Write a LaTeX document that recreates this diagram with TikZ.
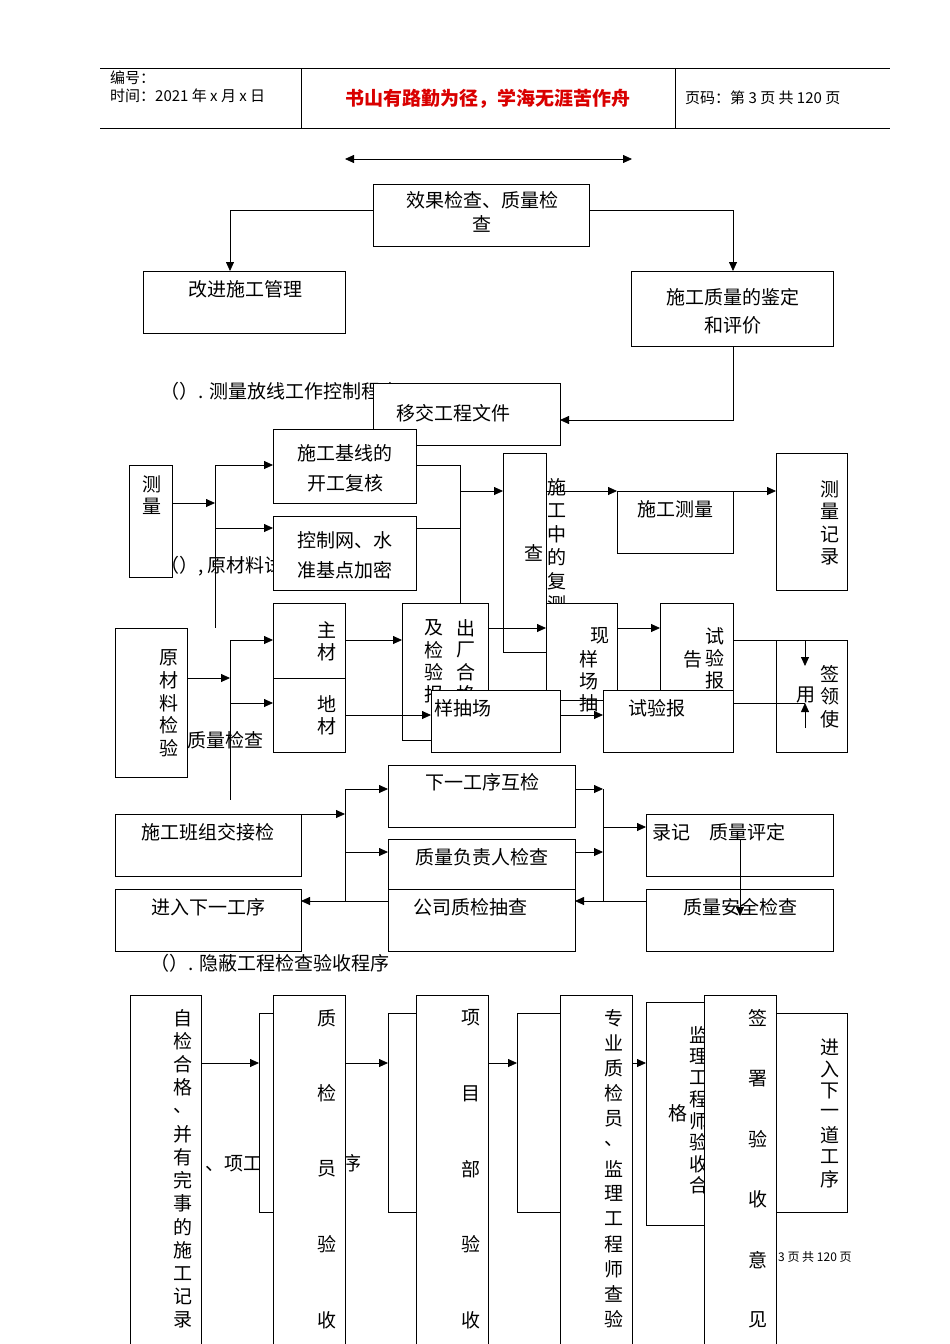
\documentclass[tikz,border=0pt]{standalone}
\usepackage{fontspec}
\newfontfamily\cjk{Noto Sans CJK SC}
\usetikzlibrary{arrows.meta}
\tikzset{x=1pt,y=-1pt,
 bx/.style={draw,fill=white,line width=0.8pt,anchor=north west,inner sep=0},
 t/.style={font=\cjk\fontsize{19}{24}\selectfont,inner sep=0},
 ts/.style={font=\cjk\fontsize{15}{18}\selectfont,inner sep=0,anchor=west},
 ln/.style={line width=0.8pt},
 ar/.style={line width=0.8pt,-{Triangle[length=9pt,width=8pt]}}}
\newcommand\B[5]{\node[bx,minimum width=#4pt-#2pt,minimum height=#5pt-#3pt] (#1) at (#2,#3) {};}
\newcommand\V[4]{\foreach \c [count=\i from 0] in {#4} \node[t] at (#1,#2+\i*#3) {\c};}
\begin{document}
\begin{tikzpicture}
\useasboundingbox (0,0) rectangle (950,1344);
% header
\draw[line width=0.6pt] (100,68) -- (890,68) (100,128) -- (890,128) (301,68) -- (301,128) (675,68) -- (675,128);
\node[ts] at (110,78) {编号：};
\node[ts] at (110,96) {时间：2021 年 x 月 x 日};
\node[font=\cjk\bfseries\fontsize{19}{22}\selectfont,text=red!85!black,inner sep=0] at (488,99) {书山有路勤为径，学海无涯苦作舟};
\node[ts] at (685,98) {页码：第 3 页 共 120 页};
\draw[line width=0.8pt,{Triangle[length=9pt,width=8pt]}-{Triangle[length=9pt,width=8pt]}] (345,159) -- (632,159);
% section 1
\B{xg}{373}{184}{589}{246}
\node[t,align=center] at (482,212) {效果检查、质量检\\查};
\B{gj}{143}{271}{345}{333}
\node[t] at (245,289) {改进施工管理};
\B{jd}{631}{271}{833}{346}
\node[t,align=center] at (733,311) {施工质量的鉴定\\[4pt]和评价};
\draw[ar] (373,210) -- (230,210) -- (230,271);
\draw[ar] (589,210) -- (733,210) -- (733,271);
\node[t,anchor=west] at (160,391) {（）. 测量放线工作控制程序};
\B{yj}{373}{383}{560}{445}
\node[t] at (453,413) {移交工程文件};
\draw[ar] (733,346) -- (733,420) -- (560,420);
% text behind
\node[t,anchor=west] at (160,566) {（）, 原材料试验程序};
\node[t,anchor=west] at (187,740) {质量检查};
% measurement
\B{cl}{129}{465}{172}{577}
\V{152}{484}{22}{测,量}
\draw[ar] (172,503) -- (215,503);
\draw[ln] (215,465) -- (215,628);
\draw[ar] (215,465) -- (273,465);
\draw[ar] (215,528) -- (273,528);
\B{jx}{273}{429}{416}{503}
\node[t,align=center] at (345,468) {施工基线的\\[6pt]开工复核};
\B{kz}{273}{516}{416}{590}
\node[t,align=center] at (345,555) {控制网、水\\[6pt]准基点加密};
\draw[ln] (416,465) -- (460,465) -- (460,605);
\draw[ln] (416,528) -- (460,528);
\draw[ar] (460,491) -- (503,491);
\B{fc}{503}{453}{546}{652}
\V{557}{487}{23.5}{施,工,中,的,复,测}
\node[t] at (534,553) {查};
\draw[ar] (546,491) -- (617,491);
\B{sc}{617}{491}{733}{553}
\node[t] at (675,509) {施工测量};
\draw[ar] (733,491) -- (776,491);
\B{jl}{776}{453}{847}{590}
\V{830}{489}{22.5}{测,量,记,录}
% materials
\B{yc}{115}{628}{187}{777}
\V{169}{658}{22.5}{原,材,料,检,验}
\draw[ar] (187,678) -- (230,678);
\draw[ln] (230,640) -- (230,800);
\draw[ar] (230,640) -- (273,640);
\draw[ar] (230,703) -- (273,703);
\B{zc}{273}{603}{345}{678}
\V{327}{630}{22}{主,材}
\B{dc}{273}{678}{345}{752}
\V{327}{704}{22}{地,材}
\draw[ar] (345,640) -- (402,640);
\B{cc}{402}{603}{488}{740}
\V{466}{628}{22}{出,厂,合,格}
\V{434}{628}{22}{及,检,验,报}
\draw[ln] (503,652) -- (546,652);
\B{xc}{546}{603}{617}{700}
\node[t] at (600,636) {现};
\V{589}{659}{22}{样,场,抽}
\draw[ar] (488,628) -- (546,628);
\B{sy}{660}{603}{733}{700}
\V{715}{636}{22}{试,验,报}
\node[t] at (693,659) {告};
\draw[ar] (617,628) -- (660,628);
\B{qy}{776}{640}{847}{752}
\V{830}{674}{22.5}{签,领,使}
\node[t] at (806,695) {用};
\draw[ln] (733,640) -- (805,640);
\draw[ar] (805,640) -- (805,666);
\draw[ln] (733,703) -- (805,703);
\draw[ar] (805,728) -- (805,703);
\B{cy}{431}{690}{560}{752}
\node[t] at (463,708) {样抽场};
\draw[ar] (345,715) -- (431,715);
\draw[ln] (402,740) -- (431,740);
\B{bg}{603}{690}{733}{752}
\node[t] at (657,708) {试验报};
\draw[ar] (560,715) -- (603,715);
\draw[ln] (733,703) -- (776,703);
% section 3
\B{hj}{388}{765}{575}{827}
\node[t] at (482,782) {下一工序互检};
\B{fz}{388}{839}{575}{889}
\node[t] at (482,857) {质量负责人检查};
\B{gs}{388}{889}{575}{951}
\node[t] at (470,907) {公司质检抽查};
\B{bz}{115}{814}{301}{876}
\node[t] at (208,832) {施工班组交接检};
\B{jr}{115}{889}{301}{951}
\node[t] at (208,907) {进入下一工序};
\draw[ar] (230,814) -- (345,814);
\draw[ln] (345,789) -- (345,901);
\draw[ar] (345,789) -- (388,789);
\draw[ar] (345,852) -- (388,852);
\draw[ar] (388,901) -- (301,901);
\draw[ar] (575,789) -- (603,789);
\draw[ar] (575,852) -- (603,852);
\draw[ln] (603,789) -- (603,901);
\draw[ar] (603,827) -- (646,827);
\B{pd}{646}{814}{833}{876}
\node[t,anchor=west] at (652,832) {录记\quad 质量评定};
\B{aq}{646}{889}{833}{951}
\node[t] at (740,907) {质量安全检查};
\draw[ar] (740,840) -- (740,916);
\draw[ar] (646,901) -- (575,901);
\node[t,anchor=west] at (150,963) {（）. 隐蔽工程检查验收程序};
% section 4
\node[t,anchor=west] at (205,1163) {、项工程};
\B{b1}{259}{1013}{273}{1212}
\B{zj}{130}{995}{201}{1350}
\V{183}{1018}{23.2}{自,检,合,格,、,并,有,完,事,的,施,工,记,录}
\draw[ar] (201,1063) -- (259,1063);
\node[t] at (352,1163) {序};
\B{zy}{273}{995}{345}{1350}
\V{327}{1018}{75.5}{质,检,员,验,收}
\B{b2}{388}{1013}{416}{1212}
\draw[ar] (345,1063) -- (388,1063);
\B{xm}{416}{995}{488}{1350}
\V{471}{1018}{75.5}{项,目,部,验,收}
\B{b3}{517}{1013}{560}{1212}
\draw[ar] (488,1063) -- (517,1063);
\B{zz}{560}{995}{632}{1350}
\V{614}{1018}{25.1}{专,业,质,检,员,、,监,理,工,程,师,查,验}
\draw[ar] (632,1063) -- (646,1063);
\B{jlg}{646}{1002}{704}{1225}
\V{699}{1035}{21.5}{监,理,工,程,师,验,收,合}
\node[t] at (678,1113) {格};
\B{qs}{704}{995}{776}{1350}
\V{758}{1018}{60.4}{签,署,验,收,意,见}
\B{jrx}{776}{1013}{847}{1212}
\V{830}{1047}{22}{进,入,下,一,道,工,序}
\node[font=\cjk\fontsize{12}{14}\selectfont,inner sep=0,anchor=west] at (778,1257) {3 页 共 120 页};
\end{tikzpicture}
\end{document}
